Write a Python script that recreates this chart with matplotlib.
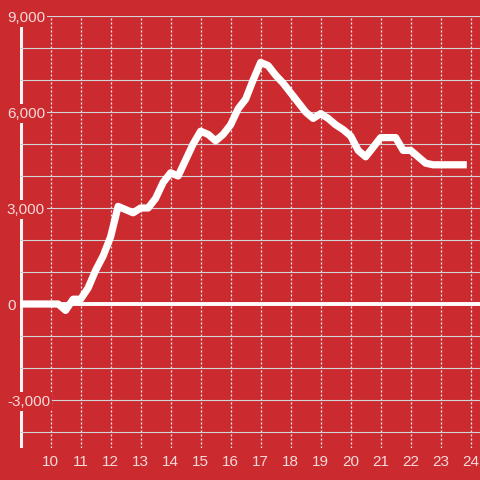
import matplotlib
matplotlib.use('Agg')
import matplotlib.pyplot as plt
import numpy as np

# quarter-hour readings
hours = np.arange(9.0, 23.76, 0.25)
values = [0, 0, 0, 0, 0, 0, -200, 150, 150, 500, 1050, 1500,
          2100, 3050, 2950, 2850, 3000, 3000, 3300, 3800, 4100, 4000, 4500, 5000,
          5400, 5300, 5100, 5300, 5600, 6100, 6400, 7000, 7550, 7450, 7150, 6900,
          6600, 6300, 6000, 5800, 5950, 5800, 5600, 5450, 5250, 4800, 4600, 4900,
          5200, 5200, 5200, 4800, 4800, 4600, 4400, 4350, 4350, 4350, 4350, 4350]
xticks = list(range(10, 25))
yticks = [-3000, 0, 3000, 6000, 9000]
ylabels = ['-3,000', '0', '3,000', '6,000', '9,000']

bg = '#cb2a2f'
txt = '#f6dada'

fig = plt.figure(figsize=(4.8, 4.8), dpi=100, facecolor=bg)
ax = fig.add_axes([20/480, 32/480, 460/480, 432/480], facecolor=bg)
for s in ax.spines.values():
    s.set_visible(False)

ax.set_xlim(8.98, 24.31)
ax.set_ylim(-4500, 9000)

ax.set_axisbelow(False)
ax.set_yticks(yticks)
ax.set_yticklabels(ylabels)
ax.set_yticks(np.arange(-4000, 9001, 1000), minor=True)
ax.set_xticks(xticks)
ax.grid(axis='y', which='both', color='#d4d4d4', linewidth=0.8)
ax.grid(axis='x', which='major', color='#f0f0f0', linewidth=0.9, linestyle=(0, (1.6, 1.6)))

ax.tick_params(axis='y', which='both', length=0, pad=9.4, labelsize=11, labelcolor=txt)
ax.tick_params(axis='x', length=0, pad=5, labelsize=11, labelcolor=txt)
for lab in ax.get_yticklabels():
    lab.set_fontfamily('Liberation Sans')
    lab.set_horizontalalignment('left')
    lab.set_bbox(dict(facecolor=bg, edgecolor='none', pad=1.5))
for lab in ax.get_xticklabels():
    lab.set_fontfamily('Liberation Sans')

ax.axvline(9.0, color='#f4f4f4', linewidth=2.2, zorder=1)
ax.axhline(0, color='white', linewidth=2.8, zorder=2.6)
ax.plot(hours, values, color='white', linewidth=5.2, zorder=3)

fig.savefig('out.png', dpi=100, facecolor=bg)
